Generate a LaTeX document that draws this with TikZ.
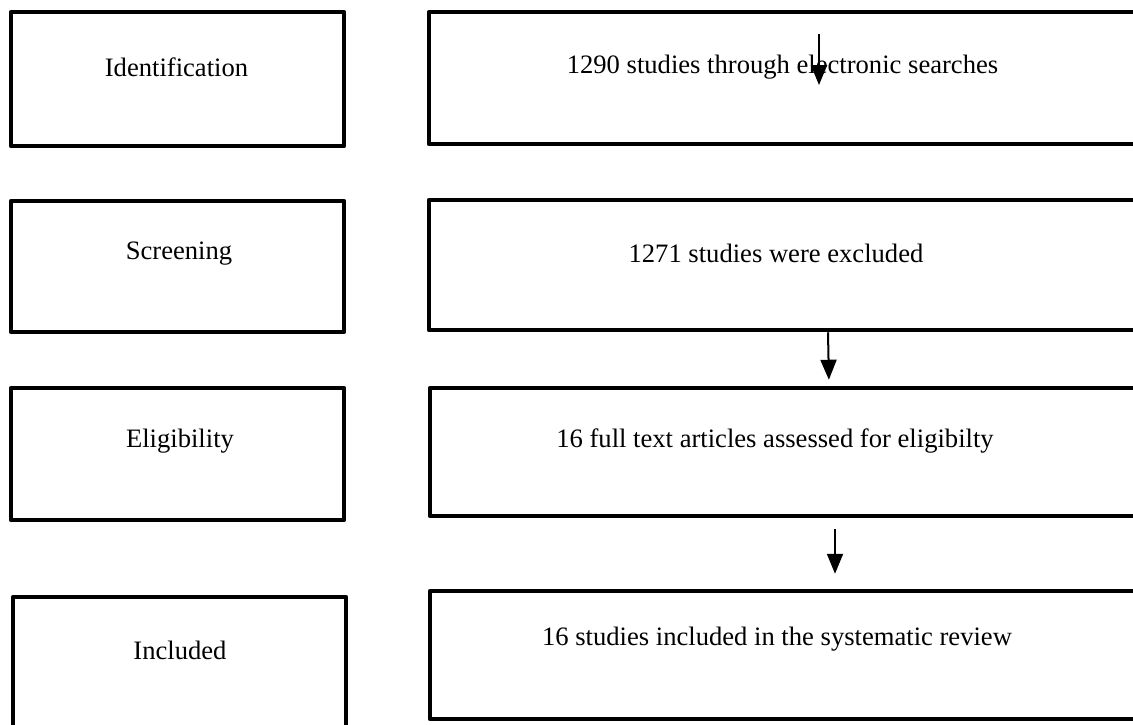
\documentclass[tikz,border=0pt]{standalone}
\usepackage{fontspec}
\setmainfont{Liberation Serif}
\usetikzlibrary{arrows.meta}

\begin{document}
\begin{tikzpicture}[x=0.5pt, y=-0.5pt]
            \tikzstyle{stage box} = [draw, line width=2.25pt, line join=round, inner sep=0pt, minimum width=166.5pt]
            \tikzstyle{step box} = [draw, line width=2.25pt, line join=round, inner sep=0pt, minimum width=354pt]
            \tikzstyle{box text} = [font=\fontsize{13.3}{16}\selectfont, inner sep=0pt]
            \tikzstyle{flow} = [line width=1pt, -{Triangle[length=10pt, width=8pt]}]

            \useasboundingbox (0, 0) rectangle (1133, 724);
            \clip (0, 0) rectangle (1133, 724);

            % left column
            \node[stage box, minimum height=67pt] (ident) at (177.5, 79) {};
            \node[stage box, minimum height=65.5pt] (screen) at (177.5, 266.5) {};
            \node[stage box, minimum height=66pt] (elig) at (177.5, 454) {};
            \node[stage box, minimum height=70pt] (incl) at (179.5, 667) {};

            \node[box text] (identtext) at (176.5, 67) {Identification};
            \node[box text] (screentext) at (179, 254) {Screening};
            \node[box text] (eligtext) at (180, 441) {Eligibility};
            \node[box text] (incltext) at (180, 650) {Included};

            % right column
            \node[step box, minimum height=66pt] (search) at (783, 78) {};
            \node[step box, minimum height=65pt] (excl) at (783, 265) {};
            \node[step box, minimum height=64pt] (full) at (784, 452) {};
            \node[step box, minimum height=64pt] (incd) at (784, 655) {};

            \node[box text] (searchtext) at (782.5, 67) {1290 studies through electronic searches};
            \node[box text] (excltext) at (776, 253) {1271 studies were excluded};
            \node[box text] (fulltext) at (775, 441) {16 full text articles assessed for eligibilty};
            \node[box text] (incdtext) at (777, 639) {16 studies included in the systematic review};

            \coordinate (s1) at (819, 34);
            \coordinate (s2) at (819, 85);

            \draw[flow] (s1) -- (s2);
            \draw[flow, shorten >=3pt] ([xshift=22.5pt]excl.south) -- ([xshift=22.5pt]full.north);
            \draw[flow, shorten <=5.5pt, shorten >=7.5pt] ([xshift=25.5pt]full.south) -- ([xshift=25.5pt]incd.north);

        \end{tikzpicture}
\end{document}
